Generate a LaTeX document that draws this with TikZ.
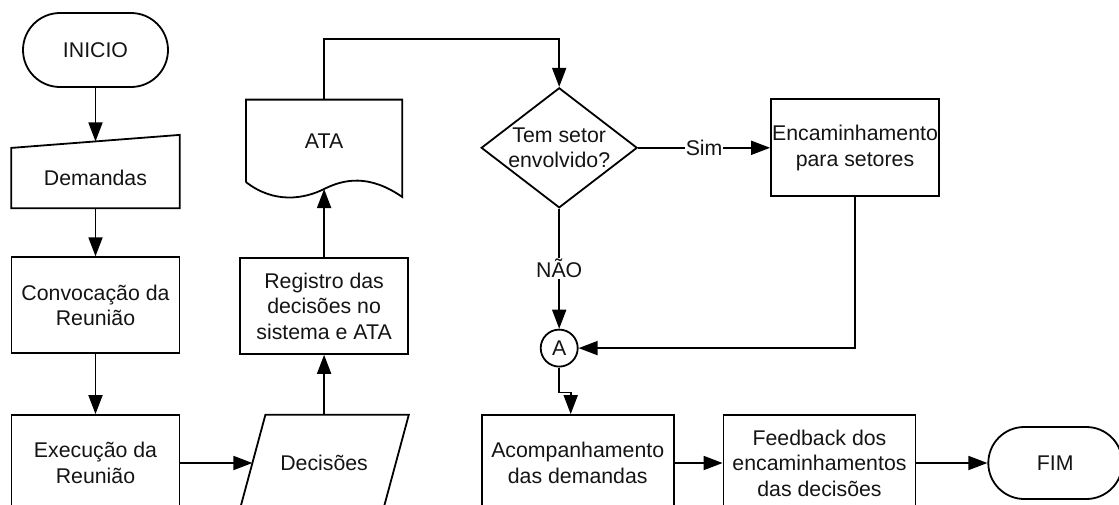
\documentclass[tikz,border=0pt]{standalone}
\usepackage{fontspec}
\setmainfont{Liberation Sans}
\usetikzlibrary{positioning,shapes.geometric,arrows.meta,calc}

\tikzset{
  every node/.style={font=\fontsize{21.3}{25.5}\selectfont, text=black!92},
  process/.style={draw, line width=1.8pt, minimum width=168pt, minimum height=96pt, inner sep=1pt, align=center},
  terminal/.style={draw, line width=1.8pt, rounded corners=37pt, minimum width=145pt, minimum height=74pt, inner sep=1pt},
  plain/.style={inner sep=1pt, align=center},
  decision/.style={draw, diamond, line width=1.8pt, minimum width=156pt, minimum height=120pt, inner sep=0pt},
  connector/.style={draw, circle, line width=1.8pt, minimum size=37pt, inner sep=0pt},
  outline/.style={line width=1.8pt, line join=miter},
  flow/.style={line width=1.8pt, -{Triangle[length=19pt,width=14pt]}},
  edgelabel/.style={fill=white, inner sep=1pt},
}

\begin{document}
\begin{tikzpicture}[x=1pt,y=1pt]

  \useasboundingbox (0,0) rectangle (1119,-504);

  \node[terminal] (inicio) at (95.5,-50) {INICIO};
  \node[plain, minimum width=168pt, minimum height=60pt, below=60pt of inicio] (demandas) {Demandas};
  \node[process, below=48pt of demandas] (convoc) {Convocação da\\Reunião};
  \node[process, below=60pt of convoc] (execucao) {Execução da\\Reunião};

  %==================================================

  \node[plain, minimum width=143pt, minimum height=96pt, right=72pt of execucao] (decisoes) {Decisões};
  \node[process, above=60pt of decisoes] (registro) {Registro das\\decisões no\\sistema e ATA};
  \node[plain, minimum width=156pt, minimum height=82pt, above=75pt of registro] (ata) {ATA};

  %==================================================

  \node[decision, right=78pt of ata, yshift=-7pt,
        label={[align=center]center:Tem setor\\envolvido?}] (tem) {};
  \node[process, minimum height=97pt, inner sep=0pt, right=132pt of tem] (encam) {Encaminhamento\\para setores};
  \node[connector, below=120pt of tem] (con_a) {A};

  \node[process, minimum width=192pt, right=85pt of decisoes] (acomp) {Acompanhamento\\das demandas};
  \node[process, minimum width=192pt, right=48pt of acomp] (feedback) {Feedback dos\\encaminhamentos\\das decisões};
  \node[terminal, minimum width=134pt, minimum height=72pt, rounded corners=36pt, right=71pt of feedback] (fim) {FIM};

  %==================================================

  \draw[outline] (demandas.south west) -- (demandas.south east)
    -- ($(demandas.north east)+(0,13)$) -- (demandas.north west) -- cycle;
  \draw[outline] ($(decisoes.north west)+(13,0)$) -- ($(decisoes.north east)+(13,0)$)
    -- ($(decisoes.south east)+(-13,0)$) -- ($(decisoes.south west)+(-13,0)$) -- cycle;
  \draw[outline] (ata.south west) -- (ata.north west) -- (ata.north east)
    -- ($(ata.south east)+(0,-15)$)
    .. controls ($(ata.south)+(45,8)$) and ($(ata.south)+(20,3)$) .. ($(ata.south)+(0,-7)$)
    .. controls ($(ata.south)+(-20,-17)$) and ($(ata.south)+(-50,-22)$) .. (ata.south west);

  \draw[flow] (inicio.south) -- ($(demandas.north)+(0,6.5)$);
  \draw[flow] (demandas) -- (convoc);
  \draw[flow] (convoc) -- (execucao);
  \draw[flow] (execucao) -- (decisoes);
  \draw[flow] (decisoes) -- (registro);
  \draw[flow] (registro) -- ($(ata.south)+(0,-7)$);
  \draw[flow] (ata.north) -- ++(0,61) -| (tem.north);

  \draw[flow] (tem) -- node[edgelabel, inner sep=0.5pt]{Sim} (encam);
  \draw[flow] (tem) -- node[edgelabel]{NÃO} (con_a);
  \draw[flow] (encam.south) |- (con_a.east);
  \draw[flow] (con_a.south) -- ++(0,-25) -| ($(acomp.north)+(-7,0)$);

  \draw[flow] (acomp) -- (feedback);
  \draw[flow] (feedback) -- (fim);

\end{tikzpicture}
\end{document}
